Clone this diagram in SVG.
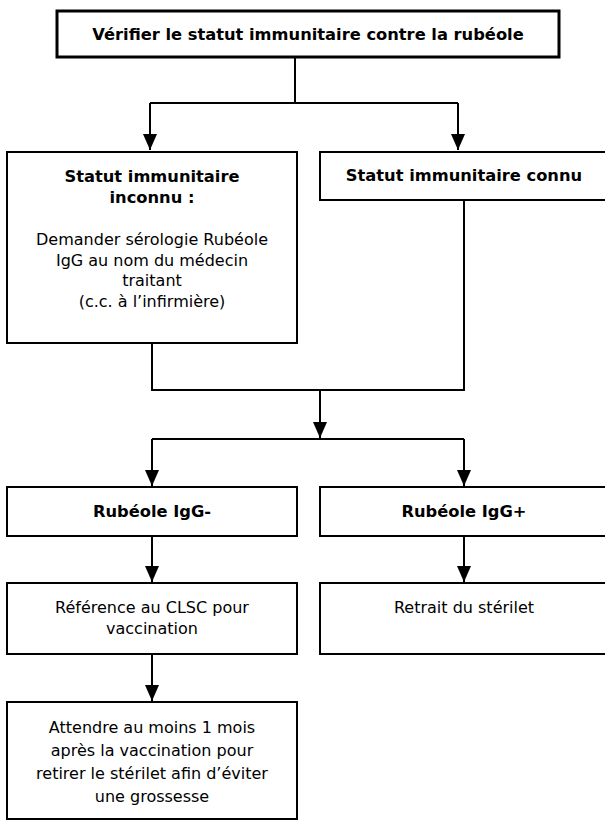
<svg xmlns="http://www.w3.org/2000/svg" width="605" height="823" viewBox="0 0 605 823">
<style>
  .box { fill: #fff; stroke: #000; stroke-width: 2; }
  .tbox { fill: #fff; stroke: #000; stroke-width: 3; }
  .t { font-family: "DejaVu Sans", Verdana, sans-serif; font-size: 16px; fill: #000; text-anchor: middle; }
  .b { font-weight: bold; font-size: 16.3px; }
  .c { fill: none; stroke: #000; stroke-width: 2; }
</style>
<defs>
  <marker id="arr" markerUnits="userSpaceOnUse" markerWidth="16" markerHeight="14" viewBox="0 0 16 14" refX="16" refY="7" orient="auto">
    <path d="M0,0 L16,7 L0,14 Z" fill="#000"/>
  </marker>
</defs>
<rect width="605" height="823" fill="#fff"/>
<g id="connectors">
  <path class="c" d="M295,57 V103 M150,103 H458"/>
  <path class="c" d="M150,103 V150" marker-end="url(#arr)"/>
  <path class="c" d="M458,103 V150" marker-end="url(#arr)"/>
  <path class="c" d="M152,343 V390 H464 V200"/>
  <path class="c" d="M320,390 V438" marker-end="url(#arr)"/>
  <path class="c" d="M152,439 H464"/>
  <path class="c" d="M152,439 V486" marker-end="url(#arr)"/>
  <path class="c" d="M464,439 V486" marker-end="url(#arr)"/>
  <path class="c" d="M152,536 V582" marker-end="url(#arr)"/>
  <path class="c" d="M464,536 V582" marker-end="url(#arr)"/>
  <path class="c" d="M152,654 V701" marker-end="url(#arr)"/>
</g>
<g id="n_verifier">
  <rect class="tbox" x="57" y="11" width="502" height="46"/>
  <text class="t b" x="308" y="40">Vérifier le statut immunitaire contre la rubéole</text>
</g>
<g id="n_inconnu">
  <rect class="box" x="7" y="152" width="290" height="191"/>
  <text class="t b" x="152" y="182">Statut immunitaire</text>
  <text class="t b" x="152" y="203">inconnu :</text>
  <text class="t" x="152" y="245">Demander sérologie Rubéole</text>
  <text class="t" x="152" y="266">IgG au nom du médecin</text>
  <text class="t" x="152" y="286">traitant</text>
  <text class="t" x="152" y="307">(c.c. à l’infirmière)</text>
</g>
<g id="n_connu">
  <rect class="box" x="320" y="152" width="290" height="48"/>
  <text class="t b" x="464" y="181">Statut immunitaire connu</text>
</g>
<g id="n_igg_neg">
  <rect class="box" x="7" y="487" width="290" height="49"/>
  <text class="t b" x="152" y="517">Rubéole IgG-</text>
</g>
<g id="n_igg_pos">
  <rect class="box" x="320" y="487" width="290" height="49"/>
  <text class="t b" x="464" y="517">Rubéole IgG+</text>
</g>
<g id="n_reference">
  <rect class="box" x="7" y="583" width="290" height="71"/>
  <text class="t" x="152" y="613">Référence au CLSC pour</text>
  <text class="t" x="152" y="634">vaccination</text>
</g>
<g id="n_retrait">
  <rect class="box" x="320" y="583" width="290" height="71"/>
  <text class="t" x="464" y="613">Retrait du stérilet</text>
</g>
<g id="n_attendre">
  <rect class="box" x="7" y="702" width="290" height="117"/>
  <text class="t" x="152" y="733">Attendre au moins 1 mois</text>
  <text class="t" x="152" y="756">après la vaccination pour</text>
  <text class="t" x="152" y="779">retirer le stérilet afin d’éviter</text>
  <text class="t" x="152" y="802">une grossesse</text>
</g>
</svg>
